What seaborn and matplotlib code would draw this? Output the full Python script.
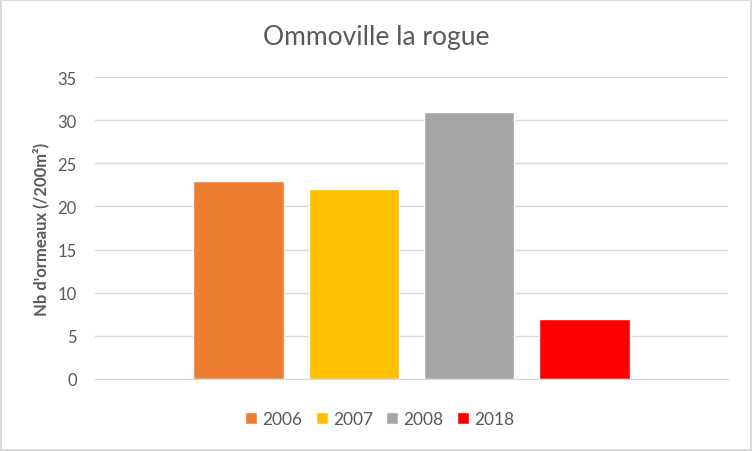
import pandas as pd
import matplotlib.pyplot as plt
import seaborn as sns

# data
annees = ["2006", "2007", "2008", "2018"]
nb_ormeaux = [23, 22, 31, 7]
couleurs = ["#ED7D31", "#FFC000", "#A5A5A5", "#FF0000"]

df = pd.DataFrame({"site": "Ommoville la rogue", "annee": annees, "nb": nb_ormeaux})

sns.set_style("white")
plt.rcParams['font.family'] = ['Lato', 'DejaVu Sans']
gris = "#595959"

fig = plt.figure(figsize=(7.52, 4.52), dpi=100, linewidth=1.5, edgecolor="#D9D9D9")
ax = fig.add_axes([0.1263, 0.1593, 0.8418, 0.6681])

sns.barplot(data=df, x="site", y="nb", hue="annee", palette=couleurs,
            width=0.727, gap=0.21, saturation=1, ax=ax)

ax.set_ylim(0, 35)
ax.set_yticks(range(0, 36, 5))
ax.yaxis.grid(True, color="#D9D9D9", linewidth=1)
ax.set_axisbelow(True)
for s in ["top", "right", "left"]:
    ax.spines[s].set_visible(False)
ax.spines["bottom"].set_color("#D9D9D9")
ax.set_xticks([])
ax.set_xlabel("")
ax.tick_params(axis="y", length=0, pad=13, labelsize=12, labelcolor=gris)
ax.set_ylabel("Nb d'ormeaux (/200m²)", fontsize=12, fontweight="bold", color=gris, labelpad=6)

ax.get_legend().remove()
handles, labels = ax.get_legend_handles_labels()
fig.legend(handles, labels, loc="center", bbox_to_anchor=(0.505, 0.071), ncol=4,
           frameon=False, handlelength=0.7, handleheight=0.7, handletextpad=0.3,
           columnspacing=0.75, fontsize=12.5, labelcolor=gris)

fig.suptitle("Ommoville la rogue", y=0.945, fontsize=19, color=gris)

fig.savefig("out.png", dpi=100)
